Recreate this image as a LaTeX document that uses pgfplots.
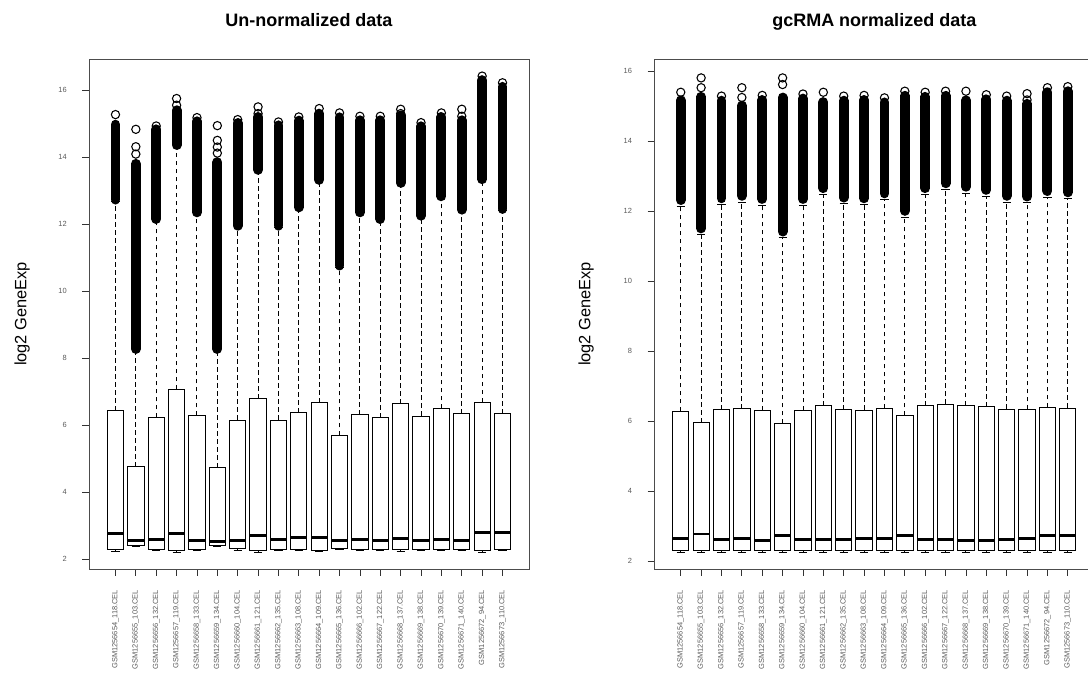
\documentclass[border=0pt]{standalone}
\usepackage{fontspec}
\setmainfont{Liberation Sans}
\usepackage{pgfplots}
\pgfplotsset{compat=1.18}
\usepgfplotslibrary{statistics}

% one R-style box: position, lower whisker, Q1, median, Q3, upper whisker
\newcommand{\bx}[6]{\addplot[black, boxplot prepared={draw position=#1, lower whisker=#2, lower quartile=#3, median=#4, upper quartile=#5, upper whisker=#6}] coordinates {};}
% dense run of outliers, drawn as one thick stroke
\newcommand{\ol}[3]{\addplot[black, line width=7.4pt, line cap=round] coordinates {(#1,#2) (#1,#3)};}

\pgfplotsset{
  rbox/.style={
    scale only axis, width=330pt, height=382.5pt,
    anchor=south west,
    xmin=-0.3, xmax=21.3,
    xtick={1,...,20},
    xticklabels={GSM1256654\_118.CEL, GSM1256655\_103.CEL, GSM1256656\_132.CEL, GSM1256657\_119.CEL,
      GSM1256658\_133.CEL, GSM1256659\_134.CEL, GSM1256660\_104.CEL, GSM1256661\_121.CEL,
      GSM1256662\_135.CEL, GSM1256663\_108.CEL, GSM1256664\_109.CEL, GSM1256665\_136.CEL,
      GSM1256666\_102.CEL, GSM1256667\_122.CEL, GSM1256668\_137.CEL, GSM1256669\_138.CEL,
      GSM1256670\_139.CEL, GSM1256671\_140.CEL, GSM1256672\_94.CEL, GSM1256673\_110.CEL},
    ytick={2,4,...,16},
    tick pos=left, tick align=outside, major tick length=5pt,
    axis line style={black!70, line width=0.6pt},
    tick style={black!80, line width=0.6pt},
    tick label style={font=\fontsize{5.6}{6}\selectfont, text=black!65},
    /pgf/number format/assume math mode=true,
    xticklabel style={rotate=90, anchor=east, inner sep=0pt, xshift=-10.5pt},
    yticklabel style={anchor=east, inner sep=0pt, xshift=-11.5pt},
    ylabel={log2 GeneExp},
    ylabel style={font=\fontsize{12.3}{14}\selectfont, at={(axis description cs:-0.152,0.5)}, anchor=center},
    title style={font=\fontsize{13.5}{16}\selectfont\bfseries, at={(axis description cs:0.5,1)}, anchor=base, yshift=18.6pt},
    boxplot/draw direction=y,
    boxplot/box extend=0.8,
    boxplot/whisker extend=0.4,
    boxplot/every box/.style={line width=0.7pt, fill=white},
    boxplot/every median/.style={line width=2.2pt},
    boxplot/draw/upper whisker/.code={
      \draw[line width=0.7pt, dash pattern=on 3.5pt off 2.5pt]
        (boxplot box cs:\pgfplotsboxplotvalue{upper quartile},0.5) --
        (boxplot box cs:\pgfplotsboxplotvalue{upper whisker},0.5);
      \draw[line width=0.7pt]
        (boxplot whisker cs:\pgfplotsboxplotvalue{upper whisker},0) --
        (boxplot whisker cs:\pgfplotsboxplotvalue{upper whisker},1);
    },
    boxplot/draw/lower whisker/.code={
      \draw[line width=0.7pt, dash pattern=on 3.5pt off 2.5pt]
        (boxplot box cs:\pgfplotsboxplotvalue{lower quartile},0.5) --
        (boxplot box cs:\pgfplotsboxplotvalue{lower whisker},0.5);
      \draw[line width=0.7pt]
        (boxplot whisker cs:\pgfplotsboxplotvalue{lower whisker},0) --
        (boxplot whisker cs:\pgfplotsboxplotvalue{lower whisker},1);
    },
  },
}

\begin{document}
\begin{tikzpicture}
\useasboundingbox (0,0) rectangle (816pt,504pt);
\clip (0,0) rectangle (816pt,504pt);

% ---------- left: raw intensities ----------
\begin{axis}[rbox, at={(66.75pt,77.25pt)}, ymin=1.70, ymax=16.93, title={Un-normalized data}]
\bx{1}{2.22}{2.27}{2.75}{6.43}{12.68}
\bx{2}{2.36}{2.40}{2.54}{4.75}{8.22}
\bx{3}{2.24}{2.29}{2.59}{6.23}{12.10}
\bx{4}{2.20}{2.24}{2.76}{7.07}{14.31}
\bx{5}{2.24}{2.29}{2.56}{6.29}{12.30}
\bx{6}{2.36}{2.40}{2.53}{4.72}{8.22}
\bx{7}{2.25}{2.30}{2.56}{6.15}{11.90}
\bx{8}{2.20}{2.25}{2.71}{6.78}{13.57}
\bx{9}{2.24}{2.29}{2.58}{6.15}{11.90}
\bx{10}{2.24}{2.29}{2.63}{6.36}{12.45}
\bx{11}{2.21}{2.26}{2.63}{6.67}{13.27}
\bx{12}{2.27}{2.32}{2.56}{5.69}{10.71}
\bx{13}{2.24}{2.29}{2.59}{6.30}{12.30}
\bx{14}{2.24}{2.29}{2.56}{6.22}{12.10}
\bx{15}{2.22}{2.27}{2.60}{6.64}{13.18}
\bx{16}{2.24}{2.29}{2.55}{6.27}{12.20}
\bx{17}{2.24}{2.29}{2.59}{6.50}{12.78}
\bx{18}{2.24}{2.29}{2.56}{6.34}{12.38}
\bx{19}{2.20}{2.25}{2.80}{6.68}{13.29}
\bx{20}{2.24}{2.29}{2.80}{6.33}{12.40}
\ol{1}{12.73}{14.97}  \ol{2}{8.27}{13.80}  \ol{3}{12.15}{14.83}  \ol{4}{14.36}{15.40}
\ol{5}{12.35}{15.07}  \ol{6}{8.27}{13.85}  \ol{7}{11.95}{15.02}  \ol{8}{13.62}{15.20}
\ol{9}{11.95}{14.95}  \ol{10}{12.50}{15.09} \ol{11}{13.32}{15.30} \ol{12}{10.76}{15.19}
\ol{13}{12.35}{15.10} \ol{14}{12.15}{15.10} \ol{15}{13.23}{15.25} \ol{16}{12.25}{14.92}
\ol{17}{12.83}{15.20} \ol{18}{12.43}{15.10} \ol{19}{13.34}{16.30} \ol{20}{12.45}{16.10}
\addplot[black, only marks, mark=o, mark size=3.1pt, mark options={line width=0.8pt}] coordinates {
  (1,15.27) (2,14.83) (2,14.31) (2,14.09) (3,14.93) (4,15.75) (4,15.55) (5,15.18)
  (6,14.94) (6,14.50) (6,14.30) (6,14.12) (7,15.12) (8,15.50) (8,15.30) (9,15.05)
  (10,15.20) (11,15.45) (12,15.32) (13,15.22) (14,15.22) (15,15.43) (15,15.30)
  (16,15.03) (17,15.32) (18,15.43) (18,15.22) (19,16.42) (20,16.22)};
\end{axis}

% ---------- right: gcRMA ----------
\begin{axis}[rbox, at={(490.7pt,77.25pt)}, ymin=1.78, ymax=16.35, title={gcRMA normalized data},
  ylabel style={at={(axis description cs:-0.155,0.5)}}]
\bx{1}{2.25}{2.30}{2.65}{6.28}{12.14}
\bx{2}{2.25}{2.30}{2.78}{5.96}{11.33}
\bx{3}{2.25}{2.30}{2.61}{6.33}{12.19}
\bx{4}{2.25}{2.30}{2.64}{6.36}{12.26}
\bx{5}{2.25}{2.30}{2.60}{6.31}{12.17}
\bx{6}{2.25}{2.30}{2.75}{5.94}{11.24}
\bx{7}{2.25}{2.30}{2.63}{6.31}{12.17}
\bx{8}{2.25}{2.30}{2.63}{6.44}{12.48}
\bx{9}{2.25}{2.30}{2.63}{6.33}{12.21}
\bx{10}{2.25}{2.30}{2.66}{6.32}{12.19}
\bx{11}{2.25}{2.30}{2.65}{6.37}{12.33}
\bx{12}{2.25}{2.30}{2.73}{6.17}{11.83}
\bx{13}{2.25}{2.30}{2.62}{6.44}{12.48}
\bx{14}{2.25}{2.30}{2.61}{6.49}{12.62}
\bx{15}{2.25}{2.30}{2.60}{6.46}{12.52}
\bx{16}{2.25}{2.30}{2.60}{6.42}{12.43}
\bx{17}{2.25}{2.30}{2.63}{6.35}{12.26}
\bx{18}{2.25}{2.30}{2.66}{6.34}{12.24}
\bx{19}{2.25}{2.30}{2.73}{6.40}{12.40}
\bx{20}{2.25}{2.30}{2.73}{6.38}{12.36}
\ol{1}{12.32}{15.17}  \ol{2}{11.51}{15.27}  \ol{3}{12.37}{15.16}  \ol{4}{12.44}{15.02}
\ol{5}{12.35}{15.18}  \ol{6}{11.42}{15.25}  \ol{7}{12.35}{15.22}  \ol{8}{12.66}{15.12}
\ol{9}{12.39}{15.16}  \ol{10}{12.37}{15.18} \ol{11}{12.51}{15.11} \ol{12}{12.01}{15.30}
\ol{13}{12.66}{15.27} \ol{14}{12.80}{15.30} \ol{15}{12.70}{15.17} \ol{16}{12.61}{15.20}
\ol{17}{12.44}{15.16} \ol{18}{12.42}{15.07} \ol{19}{12.58}{15.40} \ol{20}{12.54}{15.43}
\addplot[black, only marks, mark=o, mark size=3.1pt, mark options={line width=0.8pt}] coordinates {
  (1,15.40) (2,15.81) (2,15.53) (3,15.29) (4,15.53) (4,15.25) (5,15.31) (6,15.81)
  (6,15.62) (7,15.35) (8,15.40) (9,15.29) (10,15.31) (11,15.24) (12,15.43) (13,15.40)
  (14,15.43) (15,15.43) (16,15.33) (17,15.29) (18,15.36) (18,15.18) (19,15.53) (20,15.56)};
\end{axis}
\end{tikzpicture}
\end{document}
